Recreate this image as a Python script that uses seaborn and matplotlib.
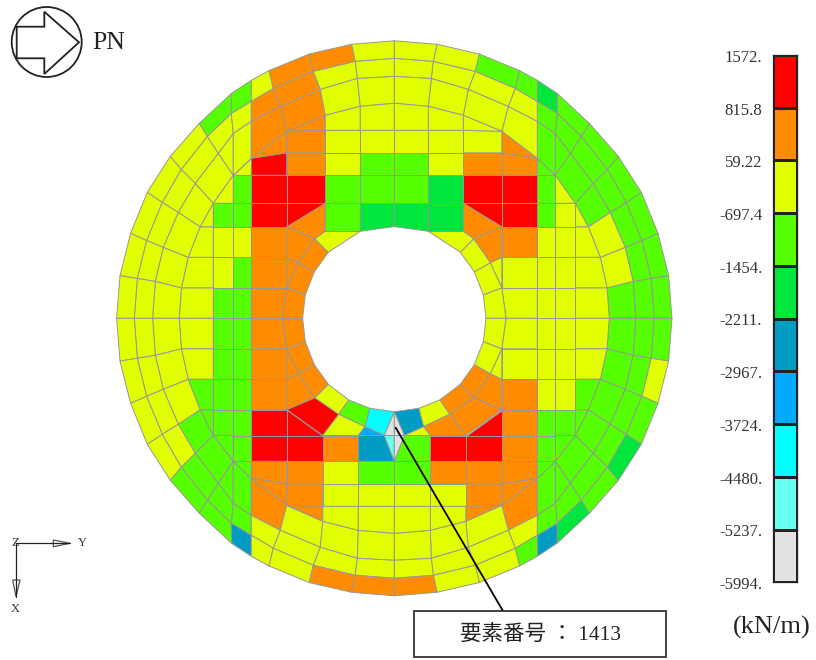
import numpy as np
import pandas as pd
import matplotlib
matplotlib.use("Agg")
import matplotlib.pyplot as plt
import seaborn as sns
from matplotlib.collections import PolyCollection
from matplotlib.colors import BoundaryNorm, ListedColormap
from matplotlib.patches import Circle, Polygon, Rectangle
from matplotlib.transforms import ScaledTranslation

# legend classes, top to bottom
TICK_LABELS = ["1572.", "815.8", "59.22", "-697.4", "-1454.", "-2211.",
               "-2967.", "-3724.", "-4480.", "-5237.", "-5994."]
BOUNDS = [1572, 815.8, 59.22, -697.4, -1454, -2211, -2967, -3724, -4480, -5237, -5994]
CLASS_KEYS = ["r", "o", "y", "g", "G", "t", "b", "c", "l", "w"]
CLASS_COLORS = ["#ff0000", "#ff8c00", "#e2ff00", "#55ff00", "#00e63c",
                "#009cc4", "#00aaff", "#00ffff", "#66fff0", "#e2e2e2"]

# outer mesh nodes, one row per ray, one column per ring (measured from the centre)
RAY_U = [[215, 241.7, 260, 277.7], [212.7, 239, 257, 274.3], [206, 231, 247.7, 263.7],
         [194, 216, 232, 247], [181, 199, 213, 224], [161, 176, 187, 195],
         [161, 161, 163, 162.7], [143, 143, 143, 143], [107.5, 114, 121, 125.3],
         [69, 74, 81, 85], [34, 37, 39, 42.7], [0, 0, 0, 0]]
RAY_V = [[0, 0, 0, 0], [30.5, 37, 40, 42.7], [61, 71, 78, 85],
         [91.5, 106, 116, 126], [116, 135, 149, 162], [143, 165, 182, 195],
         [143, 185, 205, 225], [160, 197, 217, 238], [187, 212, 230, 247.7],
         [203, 229, 247, 264.3], [212, 240, 257, 274], [215, 242, 260, 277.5]]

# outer cell classes, one string per gap between rays, inner ring first
OUTER_UL = ["yyy", "yyy", "yyy", "yyy", "yyy", "yyg", "yyg", "ooy", "ooo", "yyo", "yyy"]
OUTER_UR = ["ggg", "ygg", "ygg", "ggg", "ggg", "ggg", "ggG", "yyg", "yyg", "yyy", "yyy"]
OUTER_LL = ["yyy", "yyy", "yyy", "gyy", "ggg", "ggg", "ggt", "oyy", "yyy", "yyo", "yyo"]
OUTER_LR = ["ggg", "ggy", "ggg", "ggG", "ggg", "ggG", "ggt", "oyg", "yyy", "yyy", "yyo"]

# inner cell classes, row by row from the horizontal axis outwards
INNER_UL = ["yggoo", "yygooo", "yyyooo", "yggrroy", "gG", "ygrrgg", "yroyg", "ooyy", "oyy"]
INNER_UR = ["yyyyy", "yyyyyy", "yyyooy", "yygrroy", "GG", "ygrrGg", "gooyg", "oyyy", "yyy"]
INNER_LL = ["yggoo", "yggooo", "gggooo", "gggrrry", "gcyb", "ggrrot", "gooyg", "ooyy", "oyy", "wl"]
INNER_LR = ["yyyyy", "yyyyyy", "gyyooo", "gggoroo", "ytoy", "ggorrg", "gooog", "ooyy", "oyy", "ww"]

# inner mesh lines and the few nodes that sit off them
COLS = [181, 161, 143, 107.5]
ROWS = [30.5, 61, 91.5, 143, 165.5, 188]
TOP_COLS = [69, 34]
BOTTOM_COLS = [71.5, 36]
TOP_ROW = 115
BOTTOM_ROW = 117.2
HOLE = [(91.7, 0), (89, 23.5), (80, 46.5), (66, 66)]
RING_NODES = [(111.7, 0), (96, 55.5), (79.3, 79.5)]
TOP_HOLE = [(69, 87), (34, 87), (0, 91.7)]
BOTTOM_HOLE = [(45.5, 81.7), (24.5, 90), (0, 93.4)]
BOTTOM_NODES = [(55.5, 96), (29.3, 108.4), (10, 117.2)]

CENTER_X, CENTER_Y = 394.3, 318.3
EDGE = "#979797"

color_of = dict(zip(CLASS_KEYS, sns.color_palette(CLASS_COLORS)))


def outer_cells(c5, c6, row4):
    u = np.array(RAY_U, dtype=float)
    v = np.array(RAY_V, dtype=float)
    v[4, 0] = row4
    u[9, 0] = c5
    u[10, 0] = c6
    cells = []
    for i in range(11):
        for k in range(3):
            cells.append([(u[i, k], v[i, k]), (u[i, k + 1], v[i, k + 1]),
                          (u[i + 1, k + 1], v[i + 1, k + 1]), (u[i + 1, k], v[i + 1, k])])
    return cells, u, v


def box(u0, u1, v0, v1):
    return [(u0, v0), (u1, v0), (u1, v1), (u0, v1)]


def inner_rows(c5, c6, row4, u, v, top):
    # same layout above and below the hole, except the cells touching it
    c1, c2, c3, c4 = COLS
    r1, r2, r3, r5, r6, r7 = ROWS
    n = [(u[i, 0], v[i, 0]) for i in range(12)]
    h0, h1, h2, h3 = HOLE
    s0, s1, s2 = RING_NODES
    rows = []
    rows.append([[n[0], n[1], (c1, r1), (c1, 0)], box(c1, c2, 0, r1), box(c2, c3, 0, r1),
                 [(c3, 0), (c3, r1), (c4, r1), s0], [s0, (c4, r1), h1, h0]])
    rows.append([[n[1], n[2], (c1, r2), (c1, r1)], box(c1, c2, r1, r2), box(c2, c3, r1, r2),
                 box(c3, c4, r1, r2), [(c4, r1), (c4, r2), s1], [(c4, r1), s1, h2, h1]])
    rows.append([[n[2], n[3], (c1, r3), (c1, r2)], box(c1, c2, r2, r3), box(c2, c3, r2, r3),
                 box(c3, c4, r2, r3), [(c4, r2), (c4, r3), s2, s1], [s1, s2, h3, h2]])
    if top:
        p, q, t = TOP_HOLE
        rows.append([[n[3], n[4], (c1, r3)], box(c1, c2, r3, row4), box(c2, c3, r3, row4),
                     box(c3, c4, r3, row4), [(c4, r3), (c4, row4), (c5, row4)],
                     [(c4, r3), (c5, row4), p, s2], [s2, p, q, h3]])
        rows.append([[(c5, row4), p, q, (c6, row4)], [(c6, row4), q, t, (0, row4)]])
    else:
        a, b, t = BOTTOM_HOLE
        e, f, d = BOTTOM_NODES
        rows.append([[n[3], n[4], (c1, r3)], box(c1, c2, r3, row4), box(c2, c3, r3, row4),
                     box(c3, c4, r3, row4), [(c4, r3), (c4, row4), (c5, row4)],
                     [(c4, r3), (c5, row4), e, s2], [s2, e, a, h3]])
        rows.append([[a, b, f, e], [b, t, d, f], [f, e, (c5, row4), (c6, row4)],
                     [f, (c6, row4), d]])
    last = box(c6, 0, row4, r5)
    if not top:
        last = [(c6, row4), BOTTOM_NODES[2], (0, r5), (c6, r5)]
    rows.append([[n[4], n[5], (c2, row4)], box(c2, c3, row4, r5), box(c3, c4, row4, r5),
                 box(c4, c5, row4, r5), box(c5, c6, row4, r5), last])
    rows.append([[n[5], (c3, r5), n[7]], [(c3, r5), (c4, r5), (c4, r6), n[7]], box(c4, c5, r5, r6),
                 box(c5, c6, r5, r6), box(c6, 0, r5, r6)])
    rows.append([[n[7], (c4, r6), n[8]], [(c4, r6), (c5, r6), (c5, r7), n[8]], box(c5, c6, r6, r7),
                 box(c6, 0, r6, r7)])
    rows.append([[n[8], (c5, r7), n[9]], [(c5, r7), (c6, r7), n[10], n[9]],
                 [(c6, r7), (0, r7), n[11], n[10]]])
    if not top:
        # the split element under the hole
        d = BOTTOM_NODES[2]
        rows.append([[BOTTOM_HOLE[2], d, (0, row4)], [(0, row4), d, (0, r5)]])
    return rows


def draw_quadrant(ax, sx, sy, outer, inner):
    top = sy > 0
    c5, c6 = TOP_COLS if top else BOTTOM_COLS
    row4 = TOP_ROW if top else BOTTOM_ROW
    cells, u, v = outer_cells(c5, c6, row4)
    rows = inner_rows(c5, c6, row4, u, v, top)
    polys, colors = [], []
    for cell, key in zip(cells, "".join(outer)):
        polys.append(cell)
        colors.append(color_of[key])
    for row, keys in zip(rows, inner):
        for cell, key in zip(row, keys):
            polys.append(cell)
            colors.append(color_of[key])
    polys = [[(CENTER_X + sx * a, CENTER_Y - sy * b) for a, b in p] for p in polys]
    ax.add_collection(PolyCollection(polys, facecolors=colors, edgecolors=EDGE, linewidths=0.7))


sns.set_theme(style="white")
plt.rcParams["font.family"] = ["Liberation Serif", "Noto Sans CJK JP"]

fig = plt.figure(figsize=(8.16, 6.6), dpi=100)
ax = fig.add_axes([0, 0, 1, 1])
ax.set_xlim(0, 816)
ax.set_ylim(660, 0)
ax.axis("off")

draw_quadrant(ax, -1, 1, OUTER_UL, INNER_UL)
draw_quadrant(ax, 1, 1, OUTER_UR, INNER_UR)
draw_quadrant(ax, -1, -1, OUTER_LL, INNER_LL)
draw_quadrant(ax, 1, -1, OUTER_LR, INNER_LR)

# load case symbol
ax.add_patch(Circle((46.7, 42), 35, fc="none", ec="#222222", lw=1.3))
ax.add_patch(Polygon([(16.7, 26.7), (44.3, 26.7), (44.3, 11.7), (79, 42.3), (44.3, 74),
                      (44.3, 58.3), (16.7, 58.3)], fc="none", ec="#222222", lw=1.3))
ax.text(92.5, 43, "PN", fontsize=18.5, va="center", ha="left", color="#222222")

# axis triad
ax.plot([16, 70], [543.3, 543.3], color="#222222", lw=0.9)
ax.plot([16, 16], [543.3, 596.7], color="#222222", lw=0.9)
ax.add_patch(Polygon([(53.3, 540), (70, 543.3), (53.3, 546.7)], fc="none", ec="#555555", lw=0.9))
ax.add_patch(Polygon([(12.7, 580), (16, 596.7), (20, 580)], fc="none", ec="#555555", lw=0.9))
ax.text(15.5, 542.5, "Z", fontsize=9, ha="center", va="center", color="#333333")
ax.text(82, 542.5, "Y", fontsize=9, ha="center", va="center", color="#333333")
ax.text(15.5, 609, "X", fontsize=9, ha="center", va="center", color="#333333")

# element callout
ax.plot([395.7, 503], [427.7, 611], color="black", lw=1.3)
ax.add_patch(Rectangle((414.3, 611), 251.7, 45.7, fc="white", ec="#222222", lw=1.2, zorder=3))
ax.text(540, 635, "要素番号 ： 1413", fontsize=15.5, ha="center", va="center", color="#222222", zorder=4)

ax.text(771.5, 627, "(kN/m)", fontsize=19, ha="center", va="center", color="#222222")

# colour legend
bounds = np.array(BOUNDS, dtype=float)
mids = (bounds[:-1] + bounds[1:]) / 2
legend_df = pd.DataFrame({"value": mids})
cax = fig.add_axes([772.7 / 816, 1 - 582.3 / 660, 24 / 816, 527.3 / 660])
sns.heatmap(legend_df, ax=cax, cbar=False, cmap=ListedColormap(CLASS_COLORS[::-1]),
            norm=BoundaryNorm(bounds[::-1], 10), linewidths=0.9, linecolor="#222222",
            xticklabels=False)
for side in cax.spines.values():
    side.set_visible(True)
    side.set_color("#222222")
    side.set_linewidth(0.9)
cax.set_yticks(np.arange(11))
cax.set_yticklabels(TICK_LABELS, rotation=0, fontsize=12, color="#333333")
cax.tick_params(axis="y", length=0, pad=7.5)
cax.set_ylabel("")
# labels sit a little below their class boundary
nudge = ScaledTranslation(0, -2 / 72, fig.dpi_scale_trans)
for label in cax.get_yticklabels():
    label.set_transform(label.get_transform() + nudge)

fig.savefig("out.png", dpi=100)
